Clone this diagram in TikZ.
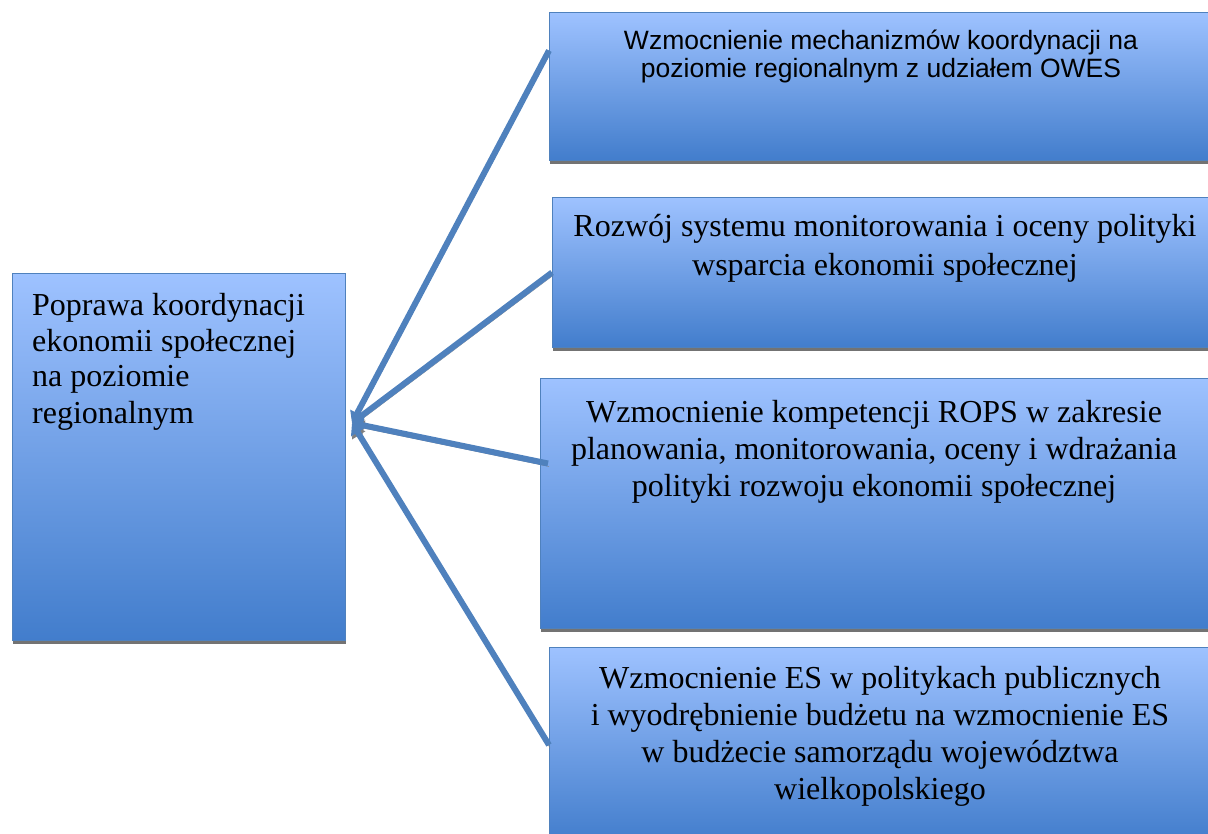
\documentclass[tikz,border=0pt]{standalone}
\usepackage{fontspec}
\setmainfont{Liberation Serif}
\newfontfamily\arialfont{Liberation Sans}
\usetikzlibrary{arrows.meta, shadows}

\definecolor{boxtop}{RGB}{158,194,255}
\definecolor{boxbot}{RGB}{66,125,204}
\definecolor{edgeblue}{RGB}{79,129,189}

\begin{document}
\begin{tikzpicture}[
  x=1pt, y=-1pt,
  box/.style={
    rectangle, draw=edgeblue, line width=1pt,
    top color=boxtop, bottom color=boxbot,
    anchor=north west, inner sep=0pt,
    drop shadow={shadow xshift=0pt, shadow yshift=-3.5pt, fill=black!55, opacity=1}
  },
  serif/.style={
    font=\fontsize{32}{37}\selectfont, align=center, inner sep=0pt, anchor=base
  },
  sans/.style={
    font=\arialfont\fontsize{26.5}{28.5}\selectfont, align=center, inner sep=0pt, anchor=base
  },
  link/.style={
    draw=edgeblue, line width=6pt,
    -{Triangle[length=11pt, width=15pt]},
    preaction={draw=black!50, transform canvas={xshift=1pt, yshift=-3pt}}
  }
  ]
  \clip (0,0) rectangle (1208,834);

  \node[box, minimum width=333, minimum height=367] (main) at (12,273) {};
  \node[box, minimum width=666, minimum height=148] (b1) at (549,12) {};
  \node[box, minimum width=663, minimum height=150] (b2) at (552,197) {};
  \node[box, minimum width=675, minimum height=250] (b3) at (540,378) {};
  \node[box, minimum width=666, minimum height=195] (b4) at (549,647) {};

  \node[serif, font=\fontsize{32}{36}\selectfont, align=left, anchor=base west] (maintext) at (32,423)
    {Poprawa koordynacji\\ekonomii społecznej\\na poziomie\\regionalnym};
  \node[sans] (b1text) at (881,78)
    {Wzmocnienie mechanizmów koordynacji na\\poziomie regionalnym z udziałem OWES};
  \node[serif, font=\fontsize{32}{39}\selectfont] (b2text) at (885,276)
    {Rozwój systemu monitorowania i oceny polityki\\wsparcia ekonomii społecznej};
  \node[serif] (b3text) at (874,496)
    {Wzmocnienie kompetencji ROPS w zakresie\\planowania, monitorowania, oceny i wdrażania\\polityki rozwoju ekonomii społecznej};
  \node[serif] (b4text) at (880,799)
    {Wzmocnienie ES w politykach publicznych\\i wyodrębnienie budżetu na wzmocnienie ES\\w budżecie samorządu województwa\\wielkopolskiego};

  \coordinate (hub) at ([xshift=6pt, yshift=34pt]main.east);
  \draw[link] ([yshift=36pt]b1.west) -- (hub);
  \draw[link] (b2.west) -- (hub);
  \draw[link] ([xshift=8pt, yshift=40pt]b3.west) -- (hub);
  \draw[link] (b4.west) -- (hub);
\end{tikzpicture}
\end{document}
